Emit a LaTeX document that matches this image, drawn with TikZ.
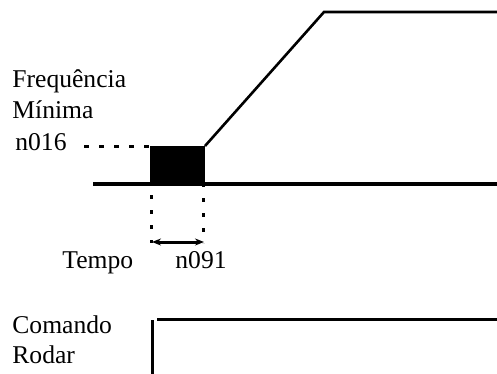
\documentclass[tikz,border=0pt]{standalone}
\usepackage{fontspec}
\setmainfont{Liberation Serif}
\usetikzlibrary{arrows.meta}
\begin{document}
\begin{tikzpicture}[x=0.5pt,y=-0.5pt,
  lbl/.style={anchor=base west,inner sep=0pt,font=\fontsize{12.8}{15}\selectfont},
  sig/.style={line width=1.3pt},
  axisline/.style={line width=1.6pt},
  dashline/.style={line width=1.5pt,dash pattern=on 2.5pt off 5pt},
  dotline/.style={line width=1.5pt,dash pattern=on 2pt off 5.5pt}]
\useasboundingbox (0,0) rectangle (497,374);
% texts
\node[lbl] (freq) at (12,88) {Frequência};
\node[lbl] (min) at (12,119) {Mínima};
\node[lbl] (n016) at (15,150) {n016};
\node[lbl] (tempo) at (62,268) {Tempo};
\node[lbl] (n091) at (175,268) {n091};
\node[lbl] (cmd) at (12,333) {Comando};
\node[lbl] (rod) at (12,363) {Rodar};
% coordinates
\coordinate (dl) at (84,146);
\coordinate (bl) at (150,146);
\coordinate (br) at (205,185);
\coordinate (rs) at (205,146);
\coordinate (rt) at (324,12);
\coordinate (te) at (497,12);
\coordinate (as) at (93,184);
\coordinate (ae) at (497,184);
\coordinate (v1t) at (151,195);
\coordinate (v1b) at (151,243);
\coordinate (v2t) at (203,183);
\coordinate (v2b) at (203,243);
\coordinate (a1) at (152,242);
\coordinate (a2) at (204,242);
\coordinate (cvt) at (152,320);
\coordinate (cvb) at (152,374);
\coordinate (chs) at (157,319);
\coordinate (che) at (497,319);
% drawing
\fill (bl) rectangle (br);
\draw[axisline] (as) -- (ae);
\draw[sig] (rs) -- (rt) -- (te);
\draw[dashline] (dl) -- (bl);
\draw[dotline] (v1t) -- (v1b);
\draw[dotline] (v2t) -- (v2b);
\draw[line width=1.5pt,{Stealth[length=4.5pt,width=3.5pt]}-{Stealth[length=4.5pt,width=3.5pt]}] (a1) -- (a2);
\draw[line width=1.5pt] (cvt) -- (cvb);
\draw[line width=1.5pt] (chs) -- (che);
\end{tikzpicture}
\end{document}
